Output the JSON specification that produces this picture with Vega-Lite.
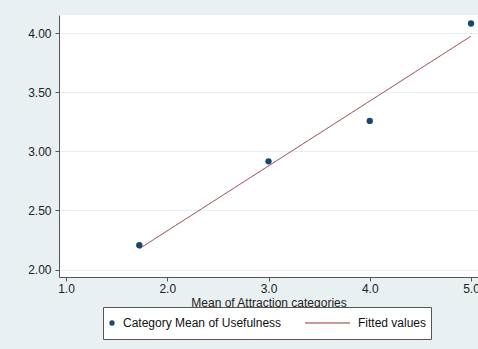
{
  "$schema": "https://vega.github.io/schema/vega-lite/v6.json",
  "width": 419,
  "height": 262,
  "autosize": {"type": "none"},
  "padding": {"left": 59, "top": 15, "right": 0, "bottom": 72},
  "background": "#e9f0f2",
  "config": {
    "view": {"fill": "white", "stroke": null},
    "font": "Liberation Sans",
    "axis": {
      "labelFont": "Liberation Sans",
      "titleFont": "Liberation Sans",
      "labelFontSize": 12,
      "titleFontSize": 12,
      "titleFontWeight": "normal",
      "labelColor": "#222222",
      "titleColor": "#222222",
      "domainColor": "#555555",
      "tickColor": "#555555",
      "tickSize": 4
    },
    "legend": {"labelFont": "Liberation Sans", "labelFontSize": 12, "labelColor": "#111111"}
  },
  "layer": [
    {
      "data": {
        "values": [
          {"attraction": 1.724, "usefulness": 2.206, "series": "Category Mean of Usefulness"},
          {"attraction": 3.0, "usefulness": 2.915, "series": "Category Mean of Usefulness"},
          {"attraction": 4.0, "usefulness": 3.257, "series": "Category Mean of Usefulness"},
          {"attraction": 5.0, "usefulness": 4.081, "series": "Category Mean of Usefulness"}
        ]
      },
      "mark": {"type": "point", "filled": true, "size": 40, "opacity": 1},
      "encoding": {
        "x": {
          "field": "attraction",
          "type": "quantitative",
          "scale": {"domain": [0.931, 5.069], "nice": false, "zero": false},
          "axis": {
            "values": [1, 2, 3, 4, 5],
            "format": ".1f",
            "grid": false,
            "title": "Mean of Attraction categories",
            "labelPadding": 2,
            "titlePadding": 3
          }
        },
        "y": {
          "field": "usefulness",
          "type": "quantitative",
          "scale": {"domain": [1.937, 4.153], "nice": false, "zero": false},
          "axis": {
            "values": [2, 2.5, 3, 3.5, 4],
            "format": ".2f",
            "grid": true,
            "gridColor": "#e6edf0",
            "gridWidth": 1,
            "title": null,
            "labelPadding": 4
          }
        },
        "color": {
          "field": "series",
          "type": "nominal",
          "scale": {
            "domain": ["Category Mean of Usefulness", "Fitted values"],
            "range": ["#1a476f", "#1a476f"]
          },
          "legend": {
            "orient": "none",
            "legendX": 44,
            "legendY": 292,
            "direction": "horizontal",
            "title": null,
            "strokeColor": "#555555",
            "fillColor": "white",
            "padding": 4,
            "clipHeight": 24,
            "symbolType": "circle",
            "symbolSize": 28,
            "symbolStrokeWidth": 0,
            "symbolOpacity": 1,
            "symbolOffset": -1,
            "labelOffset": 5,
            "labelLimit": 300,
            "columnPadding": 60
          }
        }
      }
    },
    {
      "data": {
        "values": [
          {"attraction": 1.724, "usefulness": 2.176, "series": "Fitted values"},
          {"attraction": 5.0, "usefulness": 3.974, "series": "Fitted values"}
        ]
      },
      "mark": {"type": "line", "strokeWidth": 1, "color": "#90353b"},
      "encoding": {
        "x": {"field": "attraction", "type": "quantitative"},
        "y": {"field": "usefulness", "type": "quantitative"},
        "strokeDash": {
          "field": "series",
          "type": "nominal",
          "scale": {"domain": ["Fitted values"], "range": [[1, 0]]},
          "legend": {
            "orient": "none",
            "legendX": 243.5,
            "legendY": 296,
            "direction": "horizontal",
            "title": null,
            "strokeColor": null,
            "fillColor": "white",
            "padding": 2,
            "clipHeight": 20,
            "symbolType": "stroke",
            "symbolSize": 2025,
            "symbolStrokeColor": "#90353b",
            "symbolStrokeWidth": 1,
            "labelExpr": "''"
          }
        }
      }
    }
  ]
}
